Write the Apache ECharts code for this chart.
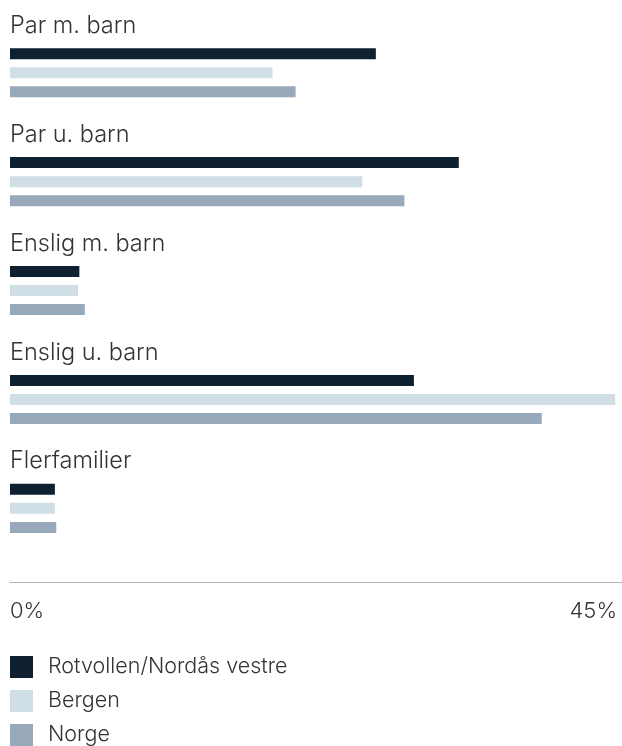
<!DOCTYPE html>
<html>
<head>
<meta charset="utf-8">
<script src="https://cdn.jsdelivr.net/npm/echarts@6/dist/echarts.min.js"></script>
<style>
html,body{margin:0;padding:0;background:#fff;}
#chart{width:622px;height:746px;}
</style>
</head>
<body>
<div id="chart"></div>
<script>
const categories = ['Par m. barn', 'Par u. barn', 'Enslig m. barn', 'Enslig u. barn', 'Flerfamilier'];
const seriesNames = ['Rotvollen/Nordås vestre', 'Bergen', 'Norge'];
const rotvollen = [26.9, 33.0, 5.1, 29.7, 3.3];
const bergen = [19.3, 25.9, 5.0, 44.5, 3.3];
const norge = [21.0, 29.0, 5.5, 39.1, 3.4];
const axisMin = 0;
const axisMax = 45;
const colors = ['#0f2131', '#d0dfe6', '#98a9bb'];

const FONT = 'Inter, Roboto, "Liberation Sans", sans-serif';
const chart = echarts.init(document.getElementById('chart'), null, {renderer: 'canvas'});
const dataSets = [rotvollen, bergen, norge];
chart.setOption({
  animation: false,
  textStyle: {fontFamily: FONT},
  grid: {left: 10, right: 0, top: 18.3, height: 544.5},
  legend: {
    orient: 'vertical', left: 10, top: 656, padding: 0,
    itemWidth: 23, itemHeight: 22, itemGap: 12,
    icon: 'rect',
    data: seriesNames,
    textStyle: {fontSize: 21.5, color: '#333', fontWeight: 300, fontFamily: FONT, padding: [0, 0, 0, 10]}
  },
  xAxis: {
    type: 'value', min: axisMin, max: axisMax, interval: axisMax - axisMin,
    offset: 19.5,
    axisLine: {show: true, lineStyle: {color: '#b3b3b3', width: 1}},
    axisTick: {show: false},
    splitLine: {show: false},
    axisLabel: {
      formatter: '{value}%', fontSize: 22, color: '#333', fontWeight: 300, fontFamily: FONT,
      margin: 18, showMinLabel: true, showMaxLabel: true,
      alignMinLabel: 'left', alignMaxLabel: 'right', padding: [0, 5, 0, 0]
    }
  },
  yAxis: {
    type: 'category', data: categories, inverse: true,
    axisLine: {show: false}, axisTick: {show: false},
    axisLabel: {
      inside: true, margin: 0, verticalAlign: 'middle', interval: 0,
      showMinLabel: true, showMaxLabel: true, hideOverlap: false,
      formatter: v => '{t|' + v + '}\n{s|}',
      rich: {
        t: {fontSize: 23.5, color: '#333', fontWeight: 300, fontFamily: FONT, lineHeight: 28},
        s: {lineHeight: 94, height: 94}
      }
    }
  },
  series: seriesNames.map((n, i) => ({
    name: n, type: 'bar', data: dataSets[i],
    barWidth: 11, barGap: '73%',
    itemStyle: {color: colors[i]}
  }))
});
</script>
</body>
</html>
